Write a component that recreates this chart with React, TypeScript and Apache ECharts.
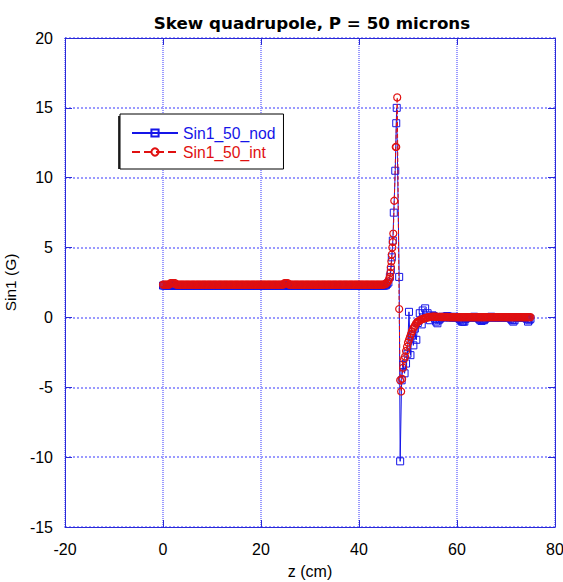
import React, { useEffect, useRef } from "react";
import * as echarts from "echarts";

// z positions (cm) of the flat region before the spike
const zFlatL = [
  0, 0.25, 0.5, 0.75, 1, 1.25, 1.5, 1.75, 2, 2.25, 2.5, 2.75, 3, 3.25, 3.5, 3.75, 4, 4.25, 4.5, 4.75,
  5, 5.25, 5.5, 5.75, 6, 6.25, 6.5, 6.75, 7, 7.25, 7.5, 7.75, 8, 8.25, 8.5, 8.75, 9, 9.25, 9.5, 9.75,
  10, 10.25, 10.5, 10.75, 11, 11.25, 11.5, 11.75, 12, 12.25, 12.5, 12.75, 13, 13.25, 13.5, 13.75, 14, 14.25, 14.5, 14.75,
  15, 15.25, 15.5, 15.75, 16, 16.25, 16.5, 16.75, 17, 17.25, 17.5, 17.75, 18, 18.25, 18.5, 18.75, 19, 19.25, 19.5, 19.75,
  20, 20.25, 20.5, 20.75, 21, 21.25, 21.5, 21.75, 22, 22.25, 22.5, 22.75, 23, 23.25, 23.5, 23.75, 24, 24.25, 24.5, 24.75,
  25, 25.25, 25.5, 25.75, 26, 26.25, 26.5, 26.75, 27, 27.25, 27.5, 27.75, 28, 28.25, 28.5, 28.75, 29, 29.25, 29.5, 29.75,
  30, 30.25, 30.5, 30.75, 31, 31.25, 31.5, 31.75, 32, 32.25, 32.5, 32.75, 33, 33.25, 33.5, 33.75, 34, 34.25, 34.5, 34.75,
  35, 35.25, 35.5, 35.75, 36, 36.25, 36.5, 36.75, 37, 37.25, 37.5, 37.75, 38, 38.25, 38.5, 38.75, 39, 39.25, 39.5, 39.75,
  40, 40.25, 40.5, 40.75, 41, 41.25, 41.5, 41.75, 42, 42.25, 42.5, 42.75, 43, 43.25, 43.5, 43.75, 44, 44.25, 44.5, 44.75,
  45,
];
const nodFlatL = [
  2.28, 2.28, 2.28, 2.28, 2.28, 2.28, 2.28, 2.28, 2.28, 2.28, 2.28, 2.28, 2.28, 2.28, 2.28, 2.28, 2.25, 2.25, 2.28, 2.28,
  2.28, 2.28, 2.28, 2.28, 2.28, 2.28, 2.28, 2.28, 2.28, 2.28, 2.28, 2.28, 2.28, 2.28, 2.28, 2.28, 2.28, 2.28, 2.28, 2.28,
  2.28, 2.28, 2.28, 2.28, 2.28, 2.28, 2.28, 2.28, 2.28, 2.28, 2.28, 2.28, 2.28, 2.28, 2.28, 2.28, 2.28, 2.28, 2.28, 2.28,
  2.28, 2.28, 2.28, 2.28, 2.28, 2.28, 2.28, 2.28, 2.28, 2.28, 2.28, 2.28, 2.28, 2.28, 2.28, 2.28, 2.28, 2.28, 2.28, 2.28,
  2.28, 2.28, 2.28, 2.28, 2.28, 2.28, 2.28, 2.28, 2.28, 2.28, 2.28, 2.28, 2.28, 2.28, 2.28, 2.28, 2.28, 2.28, 2.28, 2.28,
  2.28, 2.28, 2.28, 2.28, 2.28, 2.28, 2.28, 2.28, 2.28, 2.28, 2.28, 2.28, 2.28, 2.28, 2.28, 2.28, 2.28, 2.28, 2.28, 2.28,
  2.28, 2.28, 2.28, 2.28, 2.28, 2.28, 2.28, 2.28, 2.28, 2.28, 2.28, 2.28, 2.28, 2.28, 2.28, 2.28, 2.28, 2.28, 2.28, 2.28,
  2.28, 2.28, 2.28, 2.28, 2.28, 2.28, 2.28, 2.28, 2.28, 2.28, 2.28, 2.28, 2.28, 2.28, 2.28, 2.28, 2.28, 2.28, 2.28, 2.28,
  2.28, 2.28, 2.28, 2.28, 2.28, 2.28, 2.28, 2.28, 2.28, 2.28, 2.28, 2.28, 2.28, 2.28, 2.28, 2.28, 2.28, 2.28, 2.28, 2.28,
  2.28,
];
const intFlatL = [
  2.35, 2.35, 2.35, 2.35, 2.35, 2.35, 2.45, 2.45, 2.45, 2.45, 2.45, 2.35, 2.35, 2.35, 2.35, 2.35, 2.35, 2.35, 2.35, 2.35,
  2.35, 2.35, 2.35, 2.35, 2.35, 2.35, 2.35, 2.35, 2.35, 2.35, 2.35, 2.35, 2.35, 2.35, 2.35, 2.35, 2.35, 2.35, 2.35, 2.35,
  2.35, 2.35, 2.35, 2.35, 2.35, 2.35, 2.35, 2.35, 2.35, 2.35, 2.35, 2.35, 2.35, 2.35, 2.35, 2.35, 2.35, 2.35, 2.35, 2.35,
  2.35, 2.35, 2.35, 2.35, 2.35, 2.35, 2.35, 2.35, 2.35, 2.35, 2.35, 2.35, 2.35, 2.35, 2.35, 2.35, 2.35, 2.35, 2.35, 2.35,
  2.35, 2.35, 2.35, 2.35, 2.35, 2.35, 2.35, 2.35, 2.35, 2.35, 2.35, 2.35, 2.35, 2.35, 2.35, 2.35, 2.35, 2.35, 2.35, 2.45,
  2.45, 2.45, 2.45, 2.35, 2.35, 2.35, 2.35, 2.35, 2.35, 2.35, 2.35, 2.35, 2.35, 2.35, 2.35, 2.35, 2.35, 2.35, 2.35, 2.35,
  2.35, 2.35, 2.35, 2.35, 2.35, 2.35, 2.35, 2.35, 2.35, 2.35, 2.35, 2.35, 2.35, 2.35, 2.35, 2.35, 2.35, 2.35, 2.35, 2.35,
  2.35, 2.35, 2.35, 2.35, 2.35, 2.35, 2.35, 2.35, 2.35, 2.35, 2.35, 2.35, 2.35, 2.35, 2.35, 2.35, 2.35, 2.35, 2.35, 2.35,
  2.35, 2.35, 2.35, 2.35, 2.35, 2.35, 2.35, 2.35, 2.35, 2.35, 2.35, 2.35, 2.35, 2.35, 2.35, 2.35, 2.35, 2.35, 2.35, 2.35,
  2.35,
];

// spike region
const zPeakNod = [
  45.25, 45.5, 45.75, 46, 46.3, 46.5, 46.7, 46.9, 47.1, 47.4, 47.6, 47.7, 48.2, 48.4, 48.7, 49, 49.3, 49.6, 49.9,
  50.2, 50.5, 50.8, 51.1, 51.4, 51.7, 52, 52.4, 52.8, 53, 53.5, 54, 54.5, 55,
];
const nodPeak = [
  2.28, 2.3, 2.4, 2.5, 2.9, 3.4, 4.3, 5.5, 7.5, 10.5, 13.9, 15.0, 2.9, -10.3, -4.5, -3.4, -4.0, -3.3, -2.6,
  0.4, -2.7, -1.3, -2.0, -0.8, -1.6, -0.4, 0.3, -0.5, 0.5, 0.65, 0.3, -0.2, 0.15,
];
const zPeakInt = [
  45.25, 45.5, 45.75, 46, 46.15, 46.3, 46.4, 46.5, 46.6, 46.7, 46.8, 46.9, 47, 47.2, 47.5, 47.6, 47.8,
  48.2, 48.4, 48.6, 48.8, 49, 49.2, 49.4, 49.6, 49.8, 50, 50.2, 50.4, 50.6, 50.8, 51, 51.2, 51.4, 51.6, 51.8,
  52, 52.25, 52.5, 52.75, 53, 53.25, 53.5, 53.75, 54, 54.25, 54.5, 54.75, 55,
];
const intPeak = [
  2.38, 2.4, 2.5, 2.6, 2.75, 2.9, 3.2, 3.6, 4.0, 4.5, 5.0, 5.4, 6.0, 8.35, 12.2, 12.2, 15.75,
  0.6, -4.5, -5.3, -4.4, -3.6, -3.0, -2.8, -2.4, -2.1, -1.8, -1.6, -1.4, -1.2, -1.0, -0.85, -0.7, -0.6, -0.45, -0.38,
  -0.3, -0.25, -0.2, -0.15, -0.1, -0.08, -0.05, -0.02, 0.0, 0.02, 0.03, 0.04, 0.05,
];

// flat region after the spike
const zFlatR = [
  55.25, 55.5, 55.75, 56, 56.25, 56.5, 56.75, 57, 57.25, 57.5, 57.75, 58, 58.25, 58.5, 58.75, 59, 59.25, 59.5, 59.75, 60,
  60.25, 60.5, 60.75, 61, 61.25, 61.5, 61.75, 62, 62.25, 62.5, 62.75, 63, 63.25, 63.5, 63.75, 64, 64.25, 64.5, 64.75, 65,
  65.25, 65.5, 65.75, 66, 66.25, 66.5, 66.75, 67, 67.25, 67.5, 67.75, 68, 68.25, 68.5, 68.75, 69, 69.25, 69.5, 69.75, 70,
  70.25, 70.5, 70.75, 71, 71.25, 71.5, 71.75, 72, 72.25, 72.5, 72.75, 73, 73.25, 73.5, 73.75, 74, 74.25, 74.5, 74.75, 75,
];
const nodFlatR = [
  0.1, -0.1, -0.3, -0.42, -0.2, -0.1, 0, 0.05, 0, 0, 0.05, 0.1, 0.05, 0, 0, 0, 0, 0.05, 0, 0,
  0, -0.1, -0.2, -0.3, -0.3, -0.3, -0.1, 0, 0, 0, 0, 0, 0, 0.05, 0, 0, 0, -0.1, -0.2, -0.25,
  -0.2, -0.2, -0.1, 0, 0, 0, 0, 0.05, 0, 0, 0, 0, 0, 0, 0, 0, 0, 0, 0, 0,
  0, 0, 0, -0.1, -0.2, -0.3, -0.2, 0, 0, 0, 0, 0, 0, 0, 0, 0, -0.1, -0.3, -0.2, -0.1,
];
const intFlatR = [
  0.05, 0.05, 0.05, 0.04, 0.04, 0.04, 0.03, 0.03, 0.03, 0.03, 0.03, 0.03, 0.02, 0.02, 0.02, 0.02, 0.02, 0.02, 0.02, 0.02,
  0.02, 0.02, 0.02, 0.02, 0.02, 0.02, 0.02, 0.02, 0.02, 0.02, 0.02, 0.02, 0.02, 0.02, 0.02, 0.02, 0.02, 0.02, 0.02, 0.02,
  0.02, 0.02, 0.02, 0.02, 0.02, 0.02, 0.02, 0.02, 0.02, 0.02, 0.02, 0.02, 0.02, 0.02, 0.02, 0.02, 0.02, 0.02, 0.02, 0.02,
  0.02, 0.02, 0.02, 0.02, 0.02, 0.02, 0.02, 0.02, 0.02, 0.02, 0.02, 0.02, 0.02, 0.02, 0.02, 0.02, 0.02, 0.02, 0.02, 0.02,
];

const xTicks = { min: -20, max: 80, interval: 20 };
const yTicks = { min: -15, max: 20, interval: 5 };

const BLUE = "#1515e8";
const RED = "#e01010";
const FRAME = "#2a2ad8";
const GRID = "#9a9aff";
const FONT = "Liberation Sans, Arial, sans-serif";

function pairs(zs: number[], vs: number[]) {
  return zs.map((z, i) => [z, vs[i]]);
}

export default function App() {
  const ref = useRef<HTMLDivElement>(null);
  useEffect(() => {
    const chart = echarts.init(ref.current!, null, { renderer: "svg" });
    const nodData = [...pairs(zFlatL, nodFlatL), ...pairs(zPeakNod, nodPeak), ...pairs(zFlatR, nodFlatR)];
    const intData = [...pairs(zFlatL, intFlatL), ...pairs(zPeakInt, intPeak), ...pairs(zFlatR, intFlatR)];

    const tickStyle = { show: true, inside: true, length: 7, lineStyle: { color: FRAME, width: 1 } };
    const lineStyle = { show: true, onZero: false, lineStyle: { color: FRAME, width: 1 } };
    const labelStyle = { color: "#000", fontSize: 16, fontFamily: FONT };
    const vGridLine = { show: true, lineStyle: { color: GRID, type: [1, 1], width: 2 } };
    const hGridLine = { show: true, lineStyle: { color: GRID, type: [2, 2], width: 2 } };

    chart.setOption({
      animation: false,
      backgroundColor: "#fff",
      title: {
        text: "Skew quadrupole, P = 50 microns",
        left: 307,
        top: 9,
        textAlign: "center",
        textStyle: { fontSize: 16.7, fontWeight: "bold", color: "#000", fontFamily: "DejaVu Sans, sans-serif" },
      },
      grid: { left: 65, right: 8, top: 38, bottom: 55, show: false, containLabel: false, outerBoundsMode: "none" },
      graphic: [
        {
          type: "rect",
          z: 9,
          shape: { x: 118, y: 116, width: 164, height: 53 },
          style: { fill: "#333" },
          silent: true,
        },
      ],
      legend: {
        orient: "vertical",
        left: 120,
        top: 114,
        padding: [11, 8, 9, 11],
        itemGap: 3,
        itemWidth: 46,
        itemHeight: 9,
        backgroundColor: "#fff",
        borderColor: "#000",
        borderWidth: 1,
        z: 10,
        data: [
          { name: "Sin1_50_nod", textStyle: { color: BLUE } },
          { name: "Sin1_50_int", textStyle: { color: RED } },
        ],
        textStyle: { fontSize: 15.7, lineHeight: 15, fontFamily: FONT },
      },
      xAxis: [
        {
          type: "value",
          ...xTicks,
          position: "bottom",
          axisLine: lineStyle,
          axisTick: tickStyle,
          axisLabel: { ...labelStyle, margin: 14 },
          splitLine: vGridLine,
          name: "z (cm)",
          nameLocation: "middle",
          nameGap: 36,
          nameTextStyle: { color: "#000", fontSize: 16, fontFamily: FONT },
        },
        {
          type: "value",
          ...xTicks,
          position: "top",
          axisLine: lineStyle,
          axisTick: tickStyle,
          axisLabel: { show: false },
          splitLine: { show: false },
        },
      ],
      yAxis: [
        {
          type: "value",
          ...yTicks,
          position: "left",
          axisLine: lineStyle,
          axisTick: tickStyle,
          axisLabel: { ...labelStyle, margin: 12 },
          splitLine: hGridLine,
          name: "Sin1 (G)",
          nameLocation: "middle",
          nameGap: 32,
          nameTextStyle: { color: "#000", fontSize: 15.5, fontFamily: FONT },
        },
        {
          type: "value",
          ...yTicks,
          position: "right",
          axisLine: lineStyle,
          axisTick: tickStyle,
          axisLabel: { show: false },
          splitLine: { show: false },
        },
      ],
      series: [
        {
          name: "Sin1_50_nod",
          type: "line",
          data: nodData,
          symbol: "rect",
          symbolSize: 7,
          showAllSymbol: true,
          lineStyle: { color: BLUE, width: 1 },
          itemStyle: { color: "rgba(255,255,255,0)", borderColor: BLUE, borderWidth: 1 },
          z: 3,
        },
        {
          name: "Sin1_50_int",
          type: "line",
          data: intData,
          symbol: "circle",
          symbolSize: 7,
          showAllSymbol: true,
          lineStyle: { color: RED, width: 1, type: "dashed" },
          itemStyle: { color: "rgba(255,255,255,0)", borderColor: RED, borderWidth: 1.2 },
          z: 4,
        },
      ],
    });
    return () => chart.dispose();
  }, []);
  return <div ref={ref} style={{ position: "fixed", left: 0, top: 0, width: 563, height: 582 }} />;
}
